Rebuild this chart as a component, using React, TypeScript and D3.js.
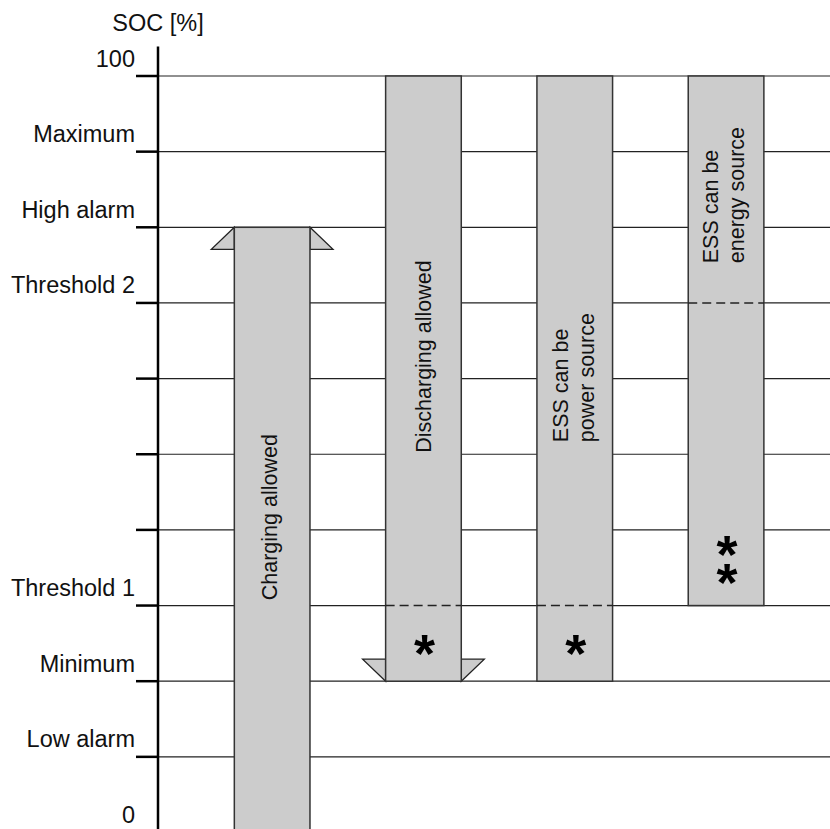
import React from "react";
import * as d3 from "d3";

// ---- data ----
const levelLabels: string[] = [
  "0", "Low alarm", "Minimum", "Threshold 1", "", "", "", "Threshold 2", "High alarm", "Maximum", "100",
];
const axisTitle = "SOC [%]";
const columns: string[] = ["charge", "discharge", "power", "energy"];
const columnLines: string[][] = [
  ["Charging allowed"],
  ["Discharging allowed"],
  ["ESS can be", "power source"],
  ["ESS can be", "energy source"],
];
const columnLow: number[] = [0, 2, 2, 3];
const columnHigh: number[] = [8, 10, 10, 10];
const columnDash: (number | null)[] = [null, 3, 3, 7];
const columnArrow: ("up" | "down" | null)[] = ["up", "down", null, null];
const columnStars: number[] = [0, 1, 1, 2];
// label start levels (text reads bottom→top)
const columnLabelStart: number[] = [3.07, 5.02, 5.16, 7.525];
// star centre level
const columnStarLevel: number[] = [0, 2.48, 2.48, 3.79];

const W = 830;
const H = 829;
const FONT = "'Liberation Sans', Arial, Helvetica, sans-serif";

export default function App() {
  const y = d3.scaleLinear().domain([0, 10]).range([832.5, 76]);
  const x = d3
    .scaleBand<string>()
    .domain(columns)
    .range([196.5, 801.7])
    .paddingInner(0.5)
    .paddingOuter(0.25);
  const axisX = 158;
  const bw = x.bandwidth();
  const arrowW = 23;
  const arrowH = 22;
  const levels = d3.range(0, 11);
  const labelOffset = [5, 8, -7, -8.5];
  const lineGap = 26.5;
  const starFs = 54;

  return (
    <svg
      width={W}
      height={H}
      style={{ position: "absolute", left: 0, top: 0, background: "#fff" }}
      fontFamily={FONT}
    >
      <rect width={W} height={H} fill="#fff" />
      {/* grid lines */}
      {levels.map((l) => (
        <line
          key={"g" + l}
          x1={axisX}
          x2={W}
          y1={y(l)}
          y2={y(l)}
          stroke="#222"
          strokeWidth={1.2}
        />
      ))}
      {/* bars */}
      {columns.map((c, i) => {
        const x0 = x(c)!;
        const x1 = x0 + bw;
        const top = y(columnHigh[i]);
        const bot = y(columnLow[i]);
        const arrows: string[] = [];
        if (columnArrow[i] === "up") {
          arrows.push(`${x0},${top} ${x0 - arrowW},${top + arrowH} ${x0},${top + arrowH}`);
          arrows.push(`${x1},${top} ${x1 + arrowW},${top + arrowH} ${x1},${top + arrowH}`);
        } else if (columnArrow[i] === "down") {
          arrows.push(`${x0},${bot} ${x0 - arrowW},${bot - arrowH} ${x0},${bot - arrowH}`);
          arrows.push(`${x1},${bot} ${x1 + arrowW},${bot - arrowH} ${x1},${bot - arrowH}`);
        }
        const cx = x0 + bw / 2;
        const lines = columnLines[i];
        const ly = y(columnLabelStart[i]);
        const stars = columnStars[i];
        const starCenter = y(columnStarLevel[i]);
        const starGap = 28.5;
        return (
          <g key={c}>
            {arrows.map((p, k) => (
              <polygon key={k} points={p} fill="#cccccc" stroke="#222" strokeWidth={1.3} />
            ))}
            <rect
              x={x0}
              y={top}
              width={bw}
              height={bot - top}
              fill="#cccccc"
              stroke="#333"
              strokeWidth={1.5}
            />
            {columnDash[i] !== null && (
              <line
                x1={x0}
                x2={x1}
                y1={y(columnDash[i]!)}
                y2={y(columnDash[i]!)}
                stroke="#222"
                strokeWidth={1.5}
                strokeDasharray="9,5"
              />
            )}
            {lines.map((t, k) => {
              const bx = cx + labelOffset[i] + k * lineGap;
              return (
                <text
                  key={k}
                  transform={`translate(${bx},${ly}) rotate(-90)`}
                  fontSize={21.5}
                  fill="#111"
                  textAnchor="start"
                >
                  {t}
                </text>
              );
            })}
            {stars > 0 && (
              <text
                fontSize={starFs}
                fontWeight="bold"
                textAnchor="middle"
                fill="#000"
              >
                {d3.range(stars).map((s) => (
                  <tspan
                    key={"s" + s}
                    x={cx + 1}
                    y={starCenter + s * starGap + starFs * 0.5}
                  >
                    *
                  </tspan>
                ))}
              </text>
            )}
          </g>
        );
      })}
      {/* axis */}
      <line x1={axisX} x2={axisX} y1={46.5} y2={H} stroke="#000" strokeWidth={2.5} />
      {levels.map((l) => (
        <g key={"t" + l}>
          <line x1={136} x2={axisX} y1={y(l)} y2={y(l)} stroke="#000" strokeWidth={2.5} />
          {levelLabels[l] && (
            <text
              x={135}
              y={y(l) - 9.5}
              textAnchor="end"
              fontSize={23.5}
              fill="#111"
            >
              {levelLabels[l]}
            </text>
          )}
        </g>
      ))}
      <text x={axisX} y={31} textAnchor="middle" fontSize={23.5} fill="#111">
        {axisTitle}
      </text>
    </svg>
  );
}
